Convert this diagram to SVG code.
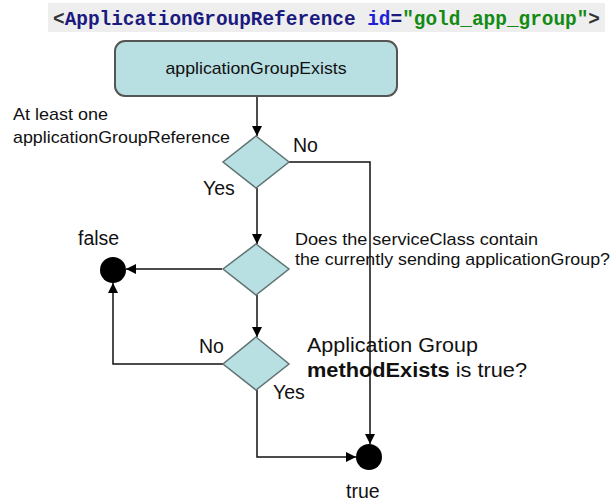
<svg xmlns="http://www.w3.org/2000/svg" width="613" height="504" viewBox="0 0 613 504">
  <style>
    .lbl { font-family: "Liberation Sans", Arial, sans-serif; font-size: 17px; fill: #111; }
    .tag { font-family: "Liberation Sans", Arial, sans-serif; font-size: 19.5px; fill: #111; }
    .big { font-family: "Liberation Sans", Arial, sans-serif; font-size: 20px; fill: #111; }
    .code { font-family: "Liberation Mono", "Courier New", monospace; font-size: 19.4px; font-weight: bold; }
    .dec { fill: #b8dfe2; stroke: #5f7373; stroke-width: 1.5; }
    .act { fill: #b8dfe2; stroke: #555; stroke-width: 2; }
    .end { fill: #000; }
    .edge { fill: none; stroke: #111; stroke-width: 1.5; marker-end: url(#arrow); }
  </style>
  <defs>
    <marker id="arrow" markerUnits="userSpaceOnUse" markerWidth="11" markerHeight="11" refX="10" refY="5" orient="auto">
      <path d="M0,0 L10,5 L0,10 z" fill="#000"/>
    </marker>
  </defs>
  <rect width="613" height="504" fill="#fff"/>

  <!-- XML element heading -->
  <g id="heading">
    <rect x="48" y="3" width="557" height="29" fill="#eeeeee"/>
    <text class="code" x="53" y="25" textLength="547" lengthAdjust="spacingAndGlyphs"><tspan fill="#333">&lt;</tspan><tspan fill="#1a1a80">ApplicationGroupReference</tspan><tspan fill="#333"> </tspan><tspan fill="#1f1fd8">id</tspan><tspan fill="#1a1a80">=</tspan><tspan fill="#138a13">"gold_app_group"</tspan><tspan fill="#333">&gt;</tspan></text>
  </g>

  <!-- connectors -->
  <g id="connectors">
    <path class="edge" d="M257,96 L257,136"/>
    <path class="edge" d="M257,188 L257,244"/>
    <path class="edge" d="M289,162 L370,162 L370,444"/>
    <path class="edge" d="M222,269 L126,269"/>
    <path class="edge" d="M257,295 L257,337"/>
    <path class="edge" d="M223,364 L113,364 L113,283"/>
    <path class="edge" d="M257,390 L257,457 L356,457"/>
  </g>

  <g id="applicationGroupExists">
    <rect class="act" x="115" y="41" width="282" height="55" rx="10" ry="10"/>
    <text class="lbl" x="256" y="74" text-anchor="middle" textLength="181" lengthAdjust="spacingAndGlyphs">applicationGroupExists</text>
  </g>

  <g id="hasReference">
    <polygon class="dec" points="256,136 289,162 256,188 223,162"/>
    <text class="lbl" x="13" y="120" textLength="95" lengthAdjust="spacingAndGlyphs">At least one</text>
    <text class="lbl" x="13" y="143" textLength="217" lengthAdjust="spacingAndGlyphs">applicationGroupReference</text>
    <text class="tag" x="293" y="152">No</text>
    <text class="tag" x="203" y="195">Yes</text>
  </g>

  <g id="containsGroup">
    <polygon class="dec" points="256,244 289,269 256,295 223,269"/>
    <text class="lbl" x="295" y="245" textLength="243" lengthAdjust="spacingAndGlyphs">Does the serviceClass contain</text>
    <text class="lbl" x="295" y="265" textLength="315" lengthAdjust="spacingAndGlyphs">the currently sending applicationGroup?</text>
  </g>

  <g id="methodExists">
    <polygon class="dec" points="256,337 289,364 256,390 223,364"/>
    <text class="tag" x="199" y="353">No</text>
    <text class="tag" x="273" y="399">Yes</text>
    <text class="big" x="307" y="352" textLength="171" lengthAdjust="spacingAndGlyphs">Application Group</text>
    <text class="big" x="307" y="377" textLength="220" lengthAdjust="spacingAndGlyphs"><tspan font-weight="bold">methodExists</tspan> is true?</text>
  </g>

  <g id="false">
    <circle class="end" cx="113" cy="270" r="13"/>
    <text class="tag" x="78" y="245">false</text>
  </g>

  <g id="true">
    <circle class="end" cx="369" cy="457" r="13"/>
    <text class="tag" x="346" y="498">true</text>
  </g>
</svg>
